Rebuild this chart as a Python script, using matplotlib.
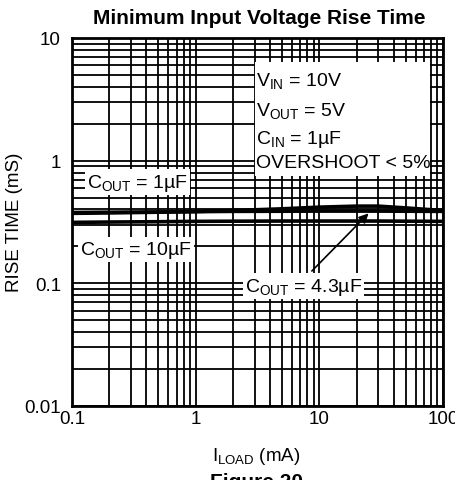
import matplotlib
matplotlib.use("Agg")
import matplotlib.pyplot as plt
import matplotlib.patches as mpatches
from matplotlib.ticker import LogLocator, NullFormatter, FixedLocator, FixedFormatter

plt.rcParams['font.family'] = ['Liberation Sans', 'DejaVu Sans']
plt.rcParams['mathtext.fontset'] = 'custom'
plt.rcParams['mathtext.rm'] = 'Liberation Sans'
plt.rcParams['mathtext.it'] = 'Liberation Sans:italic'
plt.rcParams['mathtext.bf'] = 'Liberation Sans:bold'
plt.rcParams['mathtext.default'] = 'regular'

# Data (load current in mA, rise time in ms)
i_load = [0.1, 0.2, 0.5, 1, 2, 5, 10, 20, 30, 50, 100]
rise_c1 = [0.372, 0.375, 0.380, 0.385, 0.392, 0.405, 0.418, 0.426, 0.426, 0.412, 0.392]
rise_c4_3 = [0.378, 0.380, 0.382, 0.384, 0.386, 0.387, 0.388, 0.388, 0.388, 0.387, 0.386]
rise_c10 = [0.314, 0.316, 0.318, 0.320, 0.321, 0.322, 0.322, 0.322, 0.322, 0.321, 0.320]

x_ticks = [0.1, 1, 10, 100]
x_tick_labels = ['0.1', '1', '10', '100']
y_ticks = [0.01, 0.1, 1, 10]
y_tick_labels = ['0.01', '0.1', '1', '10']

W, H = 456, 481
fig = plt.figure(figsize=(W / 100, H / 100), dpi=100)
ax = fig.add_axes([72 / W, 1 - 407 / H, (443 - 72) / W, (407 - 39) / H])
ax.set_xscale('log')
ax.set_yscale('log')
ax.set_xlim(0.1, 100)
ax.set_ylim(0.01, 10)

ax.xaxis.set_major_locator(FixedLocator(x_ticks))
ax.xaxis.set_major_formatter(FixedFormatter(x_tick_labels))
ax.yaxis.set_major_locator(FixedLocator(y_ticks))
ax.yaxis.set_major_formatter(FixedFormatter(y_tick_labels))
ax.xaxis.set_minor_locator(LogLocator(base=10, subs=range(2, 10)))
ax.yaxis.set_minor_locator(LogLocator(base=10, subs=range(2, 10)))
ax.xaxis.set_minor_formatter(NullFormatter())
ax.yaxis.set_minor_formatter(NullFormatter())
ax.grid(True, which='both', color='black', linewidth=1.3)
ax.set_axisbelow(True)
ax.tick_params(axis='x', which='both', length=0, labelsize=13.5, pad=3)
ax.tick_params(axis='y', which='both', length=0, labelsize=13.5, pad=8)
for s in ax.spines.values():
    s.set_linewidth(2.0)

lw = 2.6
ax.plot(i_load, rise_c1, color='black', lw=lw, zorder=3)
ax.plot(i_load, rise_c4_3, color='black', lw=lw, zorder=3)
ax.plot(i_load, rise_c10, color='black', lw=lw, zorder=3)

box = dict(facecolor='white', edgecolor='none', pad=1.5)
fs = 14

cond_bg = mpatches.Rectangle((255 / W, 1 - 177 / H), (430 - 255) / W, (177 - 63) / H,
                             transform=fig.transFigure, facecolor='white', edgecolor='none', zorder=2)
fig.patches.append(cond_bg)
fig.text(256 / W, 1 - 81 / H, r'V$_{IN}$ = 10V', fontsize=fs, va='center', ha='left', zorder=4)
fig.text(256 / W, 1 - 111 / H, r'V$_{OUT}$ = 5V', fontsize=fs, va='center', ha='left', zorder=4)
fig.text(256 / W, 1 - 140 / H, r'C$_{IN}$ = 1µF', fontsize=fs, va='center', ha='left', zorder=4)
fig.text(256 / W, 1 - 163 / H, 'OVERSHOOT < 5%', fontsize=fs, va='center', ha='left', zorder=4)

ax.text(0.133, 0.67, r'C$_{OUT}$ = 1µF', fontsize=fs, va='center', ha='left', bbox=box, zorder=4)
ax.text(0.116, 0.19, r'C$_{OUT}$ = 10µF', fontsize=fs, va='center', ha='left', bbox=box, zorder=4)
ax.text(2.5, 0.095, r'C$_{OUT}$ = 4.3µF', fontsize=fs, va='center', ha='left', bbox=box, zorder=4)
ax.annotate('', xy=(25, 0.372), xytext=(8.7, 0.126),
            arrowprops=dict(arrowstyle='-|>', color='black', lw=1.2, shrinkA=0, shrinkB=0,
                            mutation_scale=14), zorder=4)

fig.text(15 / W, 1 - 222 / H, 'RISE TIME (mS)', fontsize=13.5, rotation=90, ha='center', va='center')
fig.text(256 / W, 1 - 457 / H, r'I$_{LOAD}$ (mA)', fontsize=13.5, ha='center', va='center')
fig.text(259 / W, 1 - 18 / H, 'Minimum Input Voltage Rise Time', fontsize=15, fontweight='bold',
         ha='center', va='center')
fig.text(257 / W, 1 - 473 / H, 'Figure 20', fontsize=15, fontweight='bold', ha='center', va='top')

fig.savefig('out.png', dpi=100)
